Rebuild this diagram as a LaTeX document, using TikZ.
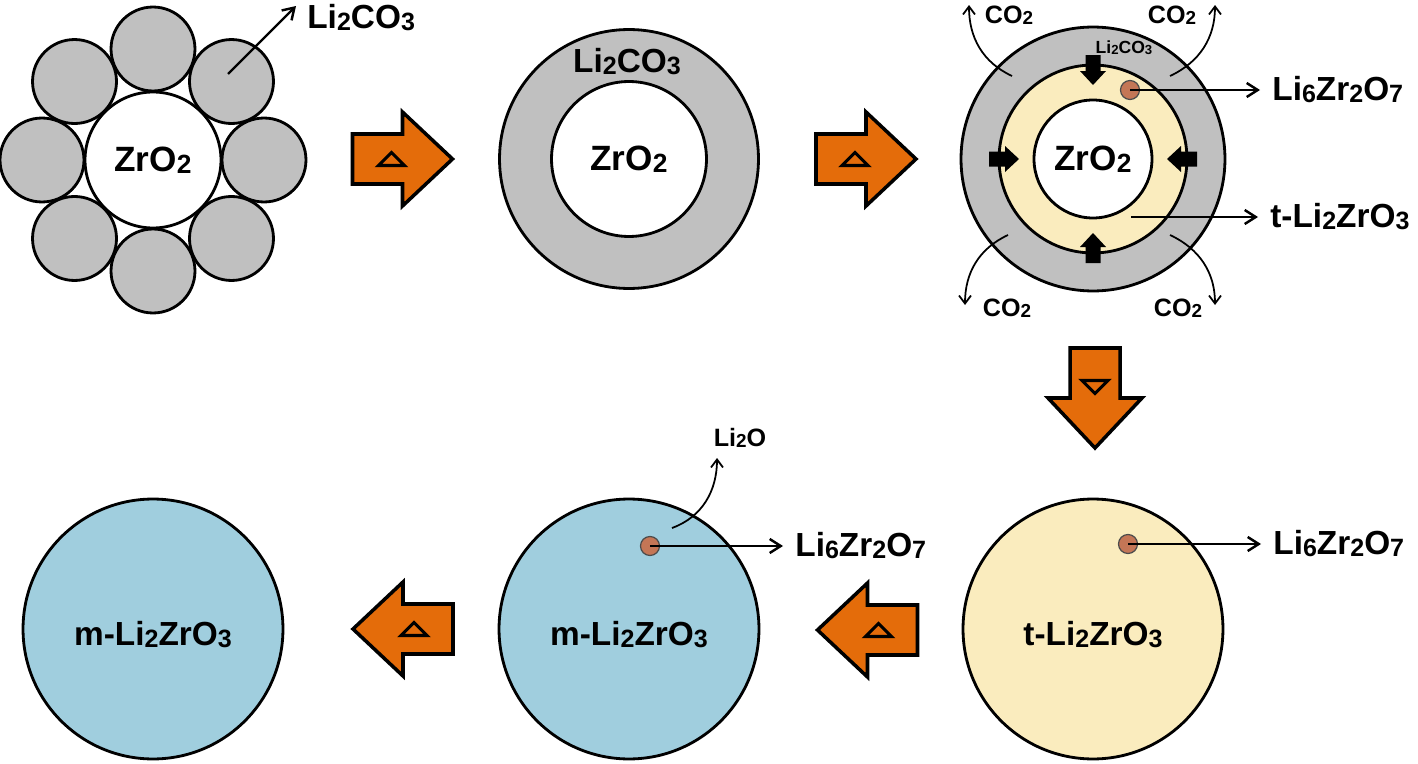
\documentclass[tikz,border=0pt]{standalone}
\usepackage{graphicx}
\usepackage{fontspec}
\setmainfont{Liberation Sans}
\usetikzlibrary{positioning, arrows.meta, calc}
\definecolor{heatorange}{RGB}{228,108,10}
\definecolor{carbgray}{RGB}{192,192,192}
\definecolor{tetrayellow}{RGB}{250,236,190}
\definecolor{monoblue}{RGB}{160,206,222}
\definecolor{dotbrown}{RGB}{196,118,86}
\newcommand{\sbs}[1]{\raisebox{-0.06em}{\scalebox{0.75}{#1}}}
\tikzset{
  ball/.style={
    circle, draw, line width=1.6pt,
    inner sep=0pt, outer sep=0pt
  },
  seed/.style={circle, draw=black!70, line width=0.7pt, fill=dotbrown, minimum size=0.38cm, inner sep=0pt},
  heat/.style={draw, line width=2pt, fill=heatorange, line join=miter},
  delta/.style={draw, line width=1.8pt, line join=miter},
  ptr/.style={-{Straight Barb[length=2.2mm, width=2.8mm, line width=1.4pt]}, line width=1.4pt},
  tolbl/.style={ptr, shorten >=0.24cm},
  thinptr/.style={-{Straight Barb[length=1.6mm, width=2.4mm]}, line width=1pt},
  biglbl/.style={font=\fontsize{19}{22}\selectfont\bfseries, inner sep=0pt},
  zrlbl/.style={font=\fontsize{20}{23}\selectfont\bfseries},
  midlbl/.style={font=\fontsize{14.3}{16}\selectfont\bfseries, inner sep=0pt},
  smalllbl/.style={font=\fontsize{10}{12}\selectfont\bfseries, inner sep=0pt}
}
% block arrow: x, y, angle, name, triangle angle
\newcommand{\drawheat}[5]{
  \begin{scope}[shift={(#1,#2)}, rotate=#3]
    \draw[heat] (-50,-25) -- (0,-25) -- (0,-47) -- (50,0) -- (0,47) -- (0,25) -- (-50,25) -- cycle;
    \coordinate (#4_tri) at (-11,0);
  \end{scope}
  \begin{scope}[shift={(#4_tri)}, rotate=#5]
    \draw[delta] (-13,-6.5) -- (13,-6.5) -- (0,6.5) -- cycle;
  \end{scope}
}

\begin{document}
\begin{tikzpicture}[x=0.02cm, y=0.02cm]
\useasboundingbox (0,0) rectangle (1418,-764);

% Stage 1: ZrO2 with Li2CO3 grains
\foreach \a in {0,45,...,315}
  \node[ball, fill=carbgray, minimum size=1.68cm] (grain\a) at ([shift={(\a:111)}]153,-160) {};
\node[ball, fill=white, minimum size=2.72cm, zrlbl] (core1) at (153,-160) {ZrO\sbs{2}};
\node[biglbl, anchor=west] (carb1) at (307,-18) {Li\sbs{2}CO\sbs{3}};
\coordinate (carb1_src) at (228,-74);
\coordinate (carb1_tip) at (296,-6);
\draw[ptr] (carb1_src) -- (carb1_tip);

\drawheat{402.5}{-159}{0}{heat1}{0}

% Stage 2: Li2CO3 shell
\node[ball, fill=carbgray, minimum size=5.18cm] (shell2) at (629,-159) {};
\node[ball, fill=white, minimum size=3.1cm, zrlbl] (core2) at (shell2) {ZrO\sbs{2}};
\node[biglbl] (carb2) at (627,-62) {Li\sbs{2}CO\sbs{3}};

\drawheat{866}{-159}{0}{heat2}{0}

% Stage 3: reaction layer
\node[ball, fill=carbgray, minimum size=5.28cm] (shell3) at (1093,-159) {};
\node[ball, fill=tetrayellow, minimum size=3.76cm] (tetra3) at (shell3) {};
\node[ball, fill=white, minimum size=2.36cm, zrlbl] (core3) at (shell3) {ZrO\sbs{2}};
\foreach \ang in {0,90,180,270}
  \fill[shift={(1093,-159)}, rotate=\ang] (104,7.5) -- (88,7.5) -- (88,13) -- (74,0) -- (88,-13) -- (88,-7.5) -- (104,-7.5) -- cycle;
\node[smalllbl] (carb3) at (1124,-48) {Li\sbs{2}CO\sbs{3}};
\node[seed] (dot3) at (1130,-90) {};
\node[biglbl, anchor=west] (lzo3) at (1272,-90) {Li\sbs{6}Zr\sbs{2}O\sbs{7}};
\draw[tolbl] (dot3.center) -- (lzo3.west);
\coordinate (tetra3_pt) at (1131,-217);
\node[biglbl, anchor=west] (tlzo3) at (1270,-217) {t-Li\sbs{2}ZrO\sbs{3}};
\draw[tolbl] (tetra3_pt) -- (tlzo3.west);

% CO2 release
\node[midlbl] (co2a) at (1009,-15) {CO\sbs{2}};
\node[midlbl] (co2b) at (1172,-15) {CO\sbs{2}};
\node[midlbl] (co2c) at (1007,-308) {CO\sbs{2}};
\node[midlbl] (co2d) at (1178,-308) {CO\sbs{2}};
\coordinate (co2a_src) at (1012,-76); \coordinate (co2a_end) at (969,-5);
\coordinate (co2b_src) at (1170,-76); \coordinate (co2b_end) at (1215,-5);
\coordinate (co2c_src) at (1008,-235); \coordinate (co2c_end) at (965,-305);
\coordinate (co2d_src) at (1170,-235); \coordinate (co2d_end) at (1215,-305);
\draw[thinptr] (co2a_src) to[out=155, in=-90] (co2a_end);
\draw[thinptr] (co2b_src) to[out=25, in=-90] (co2b_end);
\draw[thinptr] (co2c_src) to[out=205, in=90] (co2c_end);
\draw[thinptr] (co2d_src) to[out=-25, in=90] (co2d_end);

\drawheat{1095}{-398}{-90}{heat3}{180}

% Stage 4: t-Li2ZrO3
\node[ball, fill=tetrayellow, minimum size=5.2cm] (tetra4) at (1093,-629) {};
\node[biglbl] (tetra4_lbl) at (1093,-635) {t-Li\sbs{2}ZrO\sbs{3}};
\node[seed] (dot4) at (1128,-544) {};
\node[biglbl, anchor=west] (lzo4) at (1273,-544) {Li\sbs{6}Zr\sbs{2}O\sbs{7}};
\draw[tolbl] (dot4.center) -- (lzo4.west);

\drawheat{867.5}{-630}{180}{heat4}{0}

% Stage 5: m-Li2ZrO3 with Li2O loss
\node[ball, fill=monoblue, minimum size=5.2cm] (mono5) at (629,-629) {};
\node[biglbl] (mono5_lbl) at (629,-635) {m-Li\sbs{2}ZrO\sbs{3}};
\node[seed] (dot5) at (650,-546) {};
\node[biglbl, anchor=west] (lzo5) at (795,-546) {Li\sbs{6}Zr\sbs{2}O\sbs{7}};
\draw[tolbl] (dot5.center) -- (lzo5.west);
\node[midlbl] (lio5) at (740,-438) {Li\sbs{2}O};
\coordinate (lio5_src) at (672,-528);
\coordinate (lio5_end) at (717,-458);
\draw[thinptr] (lio5_src) to[out=20, in=-90] (lio5_end);

\drawheat{403}{-629}{180}{heat5}{0}

% Stage 6: m-Li2ZrO3
\node[ball, fill=monoblue, minimum size=5.2cm] (mono6) at (153,-629) {};
\node[biglbl] (mono6_lbl) at (153,-635) {m-Li\sbs{2}ZrO\sbs{3}};

\end{tikzpicture}
\end{document}
